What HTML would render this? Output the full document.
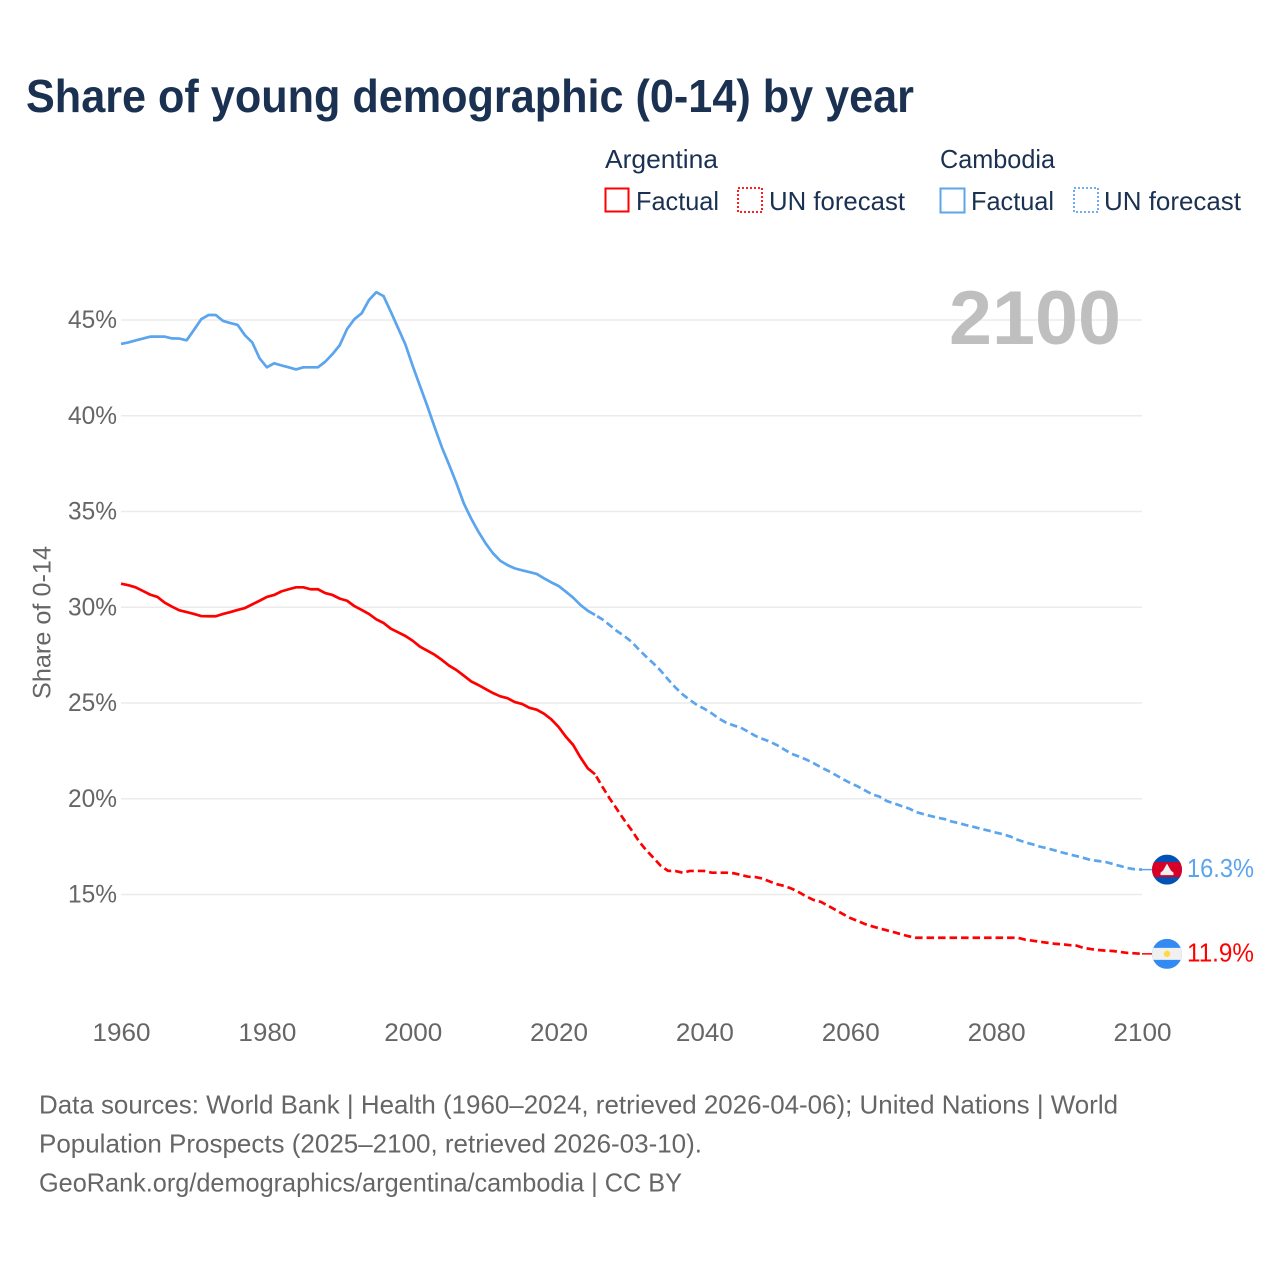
<!DOCTYPE html>
<html lang="en">
<head>
<meta charset="utf-8">
<title>Share of young demographic (0-14) by year</title>
<style>
html,body{margin:0;padding:0;background:#fff;width:1280px;height:1280px;overflow:hidden}
svg{display:block}
text{font-family:"Liberation Sans",sans-serif}
.dark{fill:#1a3152}
.grey{fill:#666}
</style>
</head>
<body>
<svg id="chart" xmlns="http://www.w3.org/2000/svg" width="1280" height="1280" viewBox="0 0 1280 1280">
  <rect width="1280" height="1280" fill="#fff"/>
  <text class="dark" x="26" y="112" font-size="46" font-weight="700" textLength="888" lengthAdjust="spacingAndGlyphs">Share of young demographic (0-14) by year</text>

  <g font-size="26">
    <text class="dark" x="605" y="168" textLength="113" lengthAdjust="spacingAndGlyphs">Argentina</text>
    <rect x="605.5" y="188.5" width="23" height="23" fill="none" stroke="#ff0000" stroke-width="2"/>
    <text class="dark" x="636" y="210" textLength="83" lengthAdjust="spacingAndGlyphs">Factual</text>
    <rect x="738" y="188" width="24" height="24" fill="none" stroke="#ff0000" stroke-width="1.8" stroke-dasharray="2 2"/>
    <text class="dark" x="769" y="210" textLength="136" lengthAdjust="spacingAndGlyphs">UN forecast</text>
    <text class="dark" x="940" y="168" textLength="115" lengthAdjust="spacingAndGlyphs">Cambodia</text>
    <rect x="940.5" y="188.5" width="24" height="24" fill="none" stroke="#5ba4ee" stroke-width="2"/>
    <text class="dark" x="971" y="210" textLength="83" lengthAdjust="spacingAndGlyphs">Factual</text>
    <rect x="1074" y="188" width="24" height="24" fill="none" stroke="#5ba4ee" stroke-width="1.8" stroke-dasharray="2 2"/>
    <text class="dark" x="1104" y="210" textLength="137" lengthAdjust="spacingAndGlyphs">UN forecast</text>
  </g>

  <g id="grid"></g>
  <text x="949" y="344" font-size="76" font-weight="700" fill="#bfbfbf" textLength="172" lengthAdjust="spacingAndGlyphs">2100</text>
  <g id="y-ticks"></g>
  <g id="x-ticks"></g>
  <text class="grey" transform="translate(50.5,699) rotate(-90)" x="0" y="0" font-size="25" textLength="153" lengthAdjust="spacingAndGlyphs">Share of 0-14</text>
  <g id="series"></g>

  <defs>
    <clipPath id="flag-clip"><circle cx="0" cy="0" r="15"/></clipPath>
  </defs>
  <g id="flag-cambodia">
    <g clip-path="url(#flag-clip)">
      <rect x="-15" y="-15" width="30" height="30" fill="#0052b4"/>
      <rect x="-15" y="-7.5" width="30" height="15" fill="#d80027"/>
      <path d="M-6.5 5.5V3L-4 1L-2 -2.5L0 -6L2 -2.5L4 1L6.5 3V5.5Z" fill="#f0f0f0"/>
    </g>
  </g>
  <g id="flag-argentina">
    <g clip-path="url(#flag-clip)">
      <rect x="-15" y="-15" width="30" height="30" fill="#338af3"/>
      <rect x="-15" y="-6" width="30" height="12" fill="#f0f0f0"/>
      <circle cx="0" cy="0" r="3.2" fill="#ffda44"/>
    </g>
  </g>
  <text id="value-cambodia" x="1187" font-size="26" fill="#5ba4ee" textLength="67" lengthAdjust="spacingAndGlyphs"></text>
  <text id="value-argentina" x="1187" font-size="26" fill="#ff0000" textLength="67" lengthAdjust="spacingAndGlyphs"></text>

  <g class="grey" font-size="26">
    <text x="39" y="1113.5" textLength="1079" lengthAdjust="spacingAndGlyphs">Data sources: World Bank | Health (1960–2024, retrieved 2026-04-06); United Nations | World</text>
    <text x="39" y="1152.5" textLength="663" lengthAdjust="spacingAndGlyphs">Population Prospects (2025–2100, retrieved 2026-03-10).</text>
    <text x="39" y="1191.5" textLength="643" lengthAdjust="spacingAndGlyphs">GeoRank.org/demographics/argentina/cambodia | CC BY</text>
  </g>
</svg>

<script>
const yTicks = [15, 20, 25, 30, 35, 40, 45];
const xTicks = [1960, 1980, 2000, 2020, 2040, 2060, 2080, 2100];
const factualStartYear = 1960;
const forecastStartYear = 2025;

const argentinaFactual = [31.23,31.15,31.04,30.85,30.66,30.54,30.24,30.03,29.84,29.75,
29.65,29.54,29.53,29.53,29.65,29.75,29.86,29.96,30.15,30.34,
30.54,30.64,30.83,30.94,31.04,31.04,30.94,30.94,30.74,30.64,
30.45,30.34,30.06,29.86,29.65,29.37,29.18,28.88,28.69,28.5,
28.25,27.94,27.73,27.52,27.25,26.95,26.72,26.43,26.13,25.94,
25.73,25.52,25.35,25.25,25.05,24.95,24.75,24.65,24.44,24.15,
23.75,23.24,22.81,22.16,21.59,21.28];
const argentinaForecast = [21.28,20.63,20.02,19.46,18.89,18.37,17.79,17.32,16.92,16.5,
16.24,16.23,16.14,16.23,16.23,16.23,16.14,16.14,16.14,16.11,
16.02,15.93,15.91,15.83,15.67,15.53,15.44,15.3,15.11,14.89,
14.71,14.61,14.4,14.19,13.98,13.77,13.62,13.46,13.34,13.23,
13.13,13.03,12.92,12.82,12.74,12.74,12.74,12.74,12.74,12.74,
12.74,12.74,12.74,12.74,12.74,12.74,12.74,12.74,12.74,12.64,
12.59,12.53,12.48,12.43,12.4,12.36,12.33,12.21,12.15,12.1,
12.07,12.05,12.0,11.95,11.93,11.9];
const cambodiaFactual = [43.75,43.83,43.93,44.03,44.13,44.13,44.13,44.04,44.03,43.94,
44.48,45.04,45.26,45.26,44.95,44.84,44.74,44.2,43.83,43.0,
42.53,42.74,42.63,42.53,42.42,42.53,42.53,42.53,42.82,43.22,
43.69,44.53,45.04,45.35,46.04,46.45,46.25,45.43,44.57,43.72,
42.6,41.55,40.51,39.41,38.35,37.43,36.47,35.43,34.64,33.95,
33.34,32.82,32.43,32.2,32.03,31.93,31.84,31.74,31.51,31.3,
31.11,30.81,30.5,30.12,29.82,29.6];
const cambodiaForecast = [29.6,29.37,29.07,28.76,28.5,28.2,27.8,27.42,27.07,26.69,
26.24,25.82,25.45,25.16,24.89,24.7,24.46,24.18,23.97,23.83,
23.71,23.5,23.28,23.12,22.98,22.79,22.56,22.34,22.2,22.04,
21.85,21.64,21.45,21.24,21.02,20.82,20.65,20.44,20.23,20.11,
19.88,19.76,19.62,19.5,19.31,19.2,19.1,19.01,18.93,18.8,
18.72,18.61,18.52,18.42,18.33,18.23,18.14,18.02,17.85,17.72,
17.62,17.5,17.41,17.31,17.2,17.1,17.01,16.91,16.8,16.75,
16.7,16.59,16.49,16.38,16.32,16.3];

const SVG_NS = 'http://www.w3.org/2000/svg';
const xScale = year => 121 + (year - 1960) * (1142 - 121) / (2100 - 1960);
const yScale = value => 894.5 - (value - 15) * (894.5 - 320) / (45 - 15);

function pathFor(values, startYear) {
  return values.map((v, i) =>
    (i ? 'L' : 'M') + xScale(startYear + i).toFixed(2) + ' ' + yScale(v).toFixed(2)
  ).join('');
}

const gridGroup = document.getElementById('grid');
const yTickGroup = document.getElementById('y-ticks');
yTicks.forEach(t => {
  const line = document.createElementNS(SVG_NS, 'line');
  
  
  line.setAttribute('x1', xScale(1960));
  line.setAttribute('x2', xScale(2100));
  line.setAttribute('y1', yScale(t));
  line.setAttribute('y2', yScale(t));
  line.setAttribute('stroke', '#ebebeb');
  line.setAttribute('stroke-width', '1.4');
  gridGroup.appendChild(line);

  const label = document.createElementNS(SVG_NS, 'text');
  
  
  label.setAttribute('x', 68);
  label.setAttribute('y', yScale(t) + 8);
  label.setAttribute('font-size', '25');
  label.setAttribute('class', 'grey');
  label.setAttribute('textLength', '49');
  label.setAttribute('lengthAdjust', 'spacingAndGlyphs');
  label.textContent = t + '%';
  yTickGroup.appendChild(label);
});

const xTickGroup = document.getElementById('x-ticks');
xTicks.forEach(t => {
  const label = document.createElementNS(SVG_NS, 'text');
  
  
  label.setAttribute('x', xScale(t) - 28.5);
  label.setAttribute('y', 1041);
  label.setAttribute('font-size', '25');
  label.setAttribute('class', 'grey');
  label.setAttribute('textLength', '58');
  label.setAttribute('lengthAdjust', 'spacingAndGlyphs');
  label.textContent = t;
  xTickGroup.appendChild(label);
});

const seriesGroup = document.getElementById('series');

const argFact = document.createElementNS(SVG_NS, 'path');


argFact.setAttribute('d', pathFor(argentinaFactual, factualStartYear));
argFact.setAttribute('fill', 'none');
argFact.setAttribute('stroke', '#ff0000');
argFact.setAttribute('stroke-width', '2.7');
argFact.setAttribute('stroke-linejoin', 'round');
seriesGroup.appendChild(argFact);

const argFore = document.createElementNS(SVG_NS, 'path');


argFore.setAttribute('d', pathFor(argentinaForecast, forecastStartYear));
argFore.setAttribute('fill', 'none');
argFore.setAttribute('stroke', '#ff0000');
argFore.setAttribute('stroke-width', '2.7');
argFore.setAttribute('stroke-dasharray', '7.5 4');
argFore.setAttribute('stroke-dashoffset', '9');
seriesGroup.appendChild(argFore);

const camFact = document.createElementNS(SVG_NS, 'path');


camFact.setAttribute('d', pathFor(cambodiaFactual, factualStartYear));
camFact.setAttribute('fill', 'none');
camFact.setAttribute('stroke', '#5ba4ee');
camFact.setAttribute('stroke-width', '2.7');
camFact.setAttribute('stroke-linejoin', 'round');
seriesGroup.appendChild(camFact);

const camFore = document.createElementNS(SVG_NS, 'path');


camFore.setAttribute('d', pathFor(cambodiaForecast, forecastStartYear));
camFore.setAttribute('fill', 'none');
camFore.setAttribute('stroke', '#5ba4ee');
camFore.setAttribute('stroke-width', '2.7');
camFore.setAttribute('stroke-dasharray', '7.5 4');
camFore.setAttribute('stroke-dashoffset', '9');
seriesGroup.appendChild(camFore);

const camLast = cambodiaForecast[cambodiaForecast.length - 1];
const argLast = argentinaForecast[argentinaForecast.length - 1];

const camConnector = document.createElementNS(SVG_NS, 'line');


camConnector.setAttribute('x1', xScale(2100));
camConnector.setAttribute('x2', 1152);
camConnector.setAttribute('y1', yScale(camLast));
camConnector.setAttribute('y2', yScale(camLast));
camConnector.setAttribute('stroke', '#5ba4ee');
camConnector.setAttribute('stroke-width', '1.5');
seriesGroup.appendChild(camConnector);

const argConnector = document.createElementNS(SVG_NS, 'line');


argConnector.setAttribute('x1', xScale(2100));
argConnector.setAttribute('x2', 1152);
argConnector.setAttribute('y1', yScale(argLast));
argConnector.setAttribute('y2', yScale(argLast));
argConnector.setAttribute('stroke', '#ff0000');
argConnector.setAttribute('stroke-width', '1.5');
seriesGroup.appendChild(argConnector);

document.getElementById('flag-cambodia').setAttribute('transform', 'translate(1167,' + yScale(camLast) + ')');
document.getElementById('flag-argentina').setAttribute('transform', 'translate(1167,' + yScale(argLast) + ')');

const camValue = document.getElementById('value-cambodia');
camValue.setAttribute('y', yScale(camLast) + 7.5);
camValue.textContent = camLast.toFixed(1) + '%';
const argValue = document.getElementById('value-argentina');
argValue.setAttribute('y', yScale(argLast) + 7.5);
argValue.textContent = argLast.toFixed(1) + '%';
</script>
</body>
</html>
